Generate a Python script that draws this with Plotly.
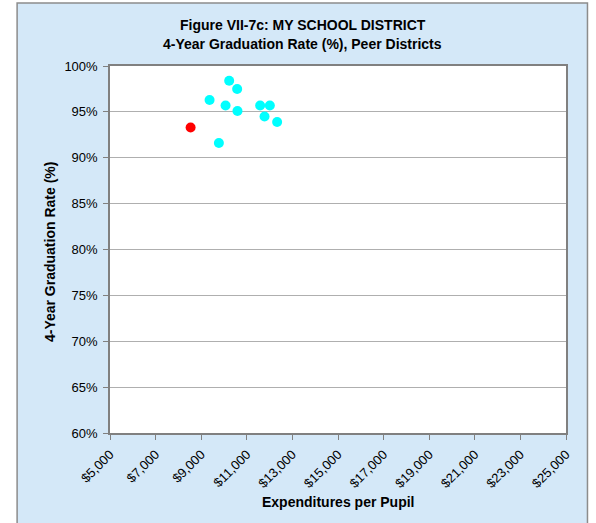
import plotly.graph_objects as go

# Data
peer_spending = [10227, 10577, 9368, 10069, 10591, 11585, 12010, 11778, 12330, 9776]
peer_rate = [98.4, 97.5, 96.3, 95.7, 95.1, 95.7, 95.7, 94.5, 93.9, 91.6]
my_spending = [8536]
my_rate = [93.3]

x_ticks = list(range(5000, 25001, 2000))
x_tick_labels = [f"${v:,}" for v in x_ticks]
y_ticks = list(range(60, 101, 5))
y_tick_labels = [f"{v}%" for v in y_ticks]

W, H = 596, 523
L, R, T, B = 110, 566.5, 66, 433
pw, ph = R - L, B - T

def px(x):
    return (x - L) / pw

def py(y):
    return (B - y) / ph

FONT = "Liberation Sans, Arial, sans-serif"

fig = go.Figure()
fig.add_trace(go.Scatter(x=peer_spending, y=peer_rate, mode="markers",
                         marker=dict(color="#00FFFF", size=10, line=dict(width=0)),
                         showlegend=False, hoverinfo="x+y"))
fig.add_trace(go.Scatter(x=my_spending, y=my_rate, mode="markers",
                         marker=dict(color="#FF0000", size=10, line=dict(width=0)),
                         showlegend=False, hoverinfo="x+y"))

shapes = [
    dict(type="rect", xref="paper", yref="paper", layer="below",
         x0=px(17), x1=px(588), y0=py(540), y1=py(3),
         fillcolor="#D4E8F8", line=dict(color="#8C8C8C", width=1.5)),
    dict(type="rect", xref="paper", yref="paper", layer="below",
         x0=0, x1=1, y0=0, y1=1, fillcolor="white", line=dict(width=0)),
]

annotations = [
    dict(text="<b>Figure VII-7c: MY SCHOOL DISTRICT</b>", xref="paper", yref="paper",
         x=px(303), y=py(25), xanchor="center", yanchor="middle", showarrow=False,
         font=dict(family=FONT, size=14, color="black")),
    dict(text="<b>4-Year Graduation Rate (%), Peer Districts</b>", xref="paper", yref="paper",
         x=px(303), y=py(44), xanchor="center", yanchor="middle", showarrow=False,
         font=dict(family=FONT, size=14, color="black")),
    dict(text="<b>4-Year Graduation Rate (%)</b>", xref="paper", yref="paper",
         x=px(50), y=py(252), xanchor="center", yanchor="middle", showarrow=False,
         textangle=-90, font=dict(family=FONT, size=14, color="black")),
    dict(text="<b>Expenditures per Pupil</b>", xref="paper", yref="paper",
         x=0.5, y=py(502), xanchor="center", yanchor="middle", showarrow=False,
         font=dict(family=FONT, size=14, color="black")),
]

fig.update_layout(
    width=W, height=H,
    margin=dict(l=L, r=W - R, t=T, b=H - B, pad=0),
    paper_bgcolor="white", plot_bgcolor="white",
    shapes=shapes, annotations=annotations,
    font=dict(family=FONT, size=13, color="black"),
    xaxis=dict(range=[5000, 25000], tickmode="array", tickvals=x_ticks,
               ticktext=x_tick_labels, tickangle=-45, showgrid=False,
               showline=True, linecolor="#808080", linewidth=1.5, mirror=True,
               ticks="outside", ticklen=5, tickcolor="#808080", zeroline=False,
               ticklabelstandoff=2,
               tickfont=dict(family=FONT, size=13, color="black")),
    yaxis=dict(range=[60, 100], tickmode="array", tickvals=y_ticks,
               ticktext=y_tick_labels, showgrid=True, gridcolor="#AFAFAF",
               gridwidth=1, showline=True, linecolor="#808080", linewidth=1.5,
               mirror=True, ticks="outside", ticklen=5, tickcolor="#808080",
               zeroline=False, ticklabelstandoff=3,
               tickfont=dict(family=FONT, size=13, color="black")),
)

fig.write_html("out.html", config={"displayModeBar": False},
               post_script="document.body.style.margin='0';")
